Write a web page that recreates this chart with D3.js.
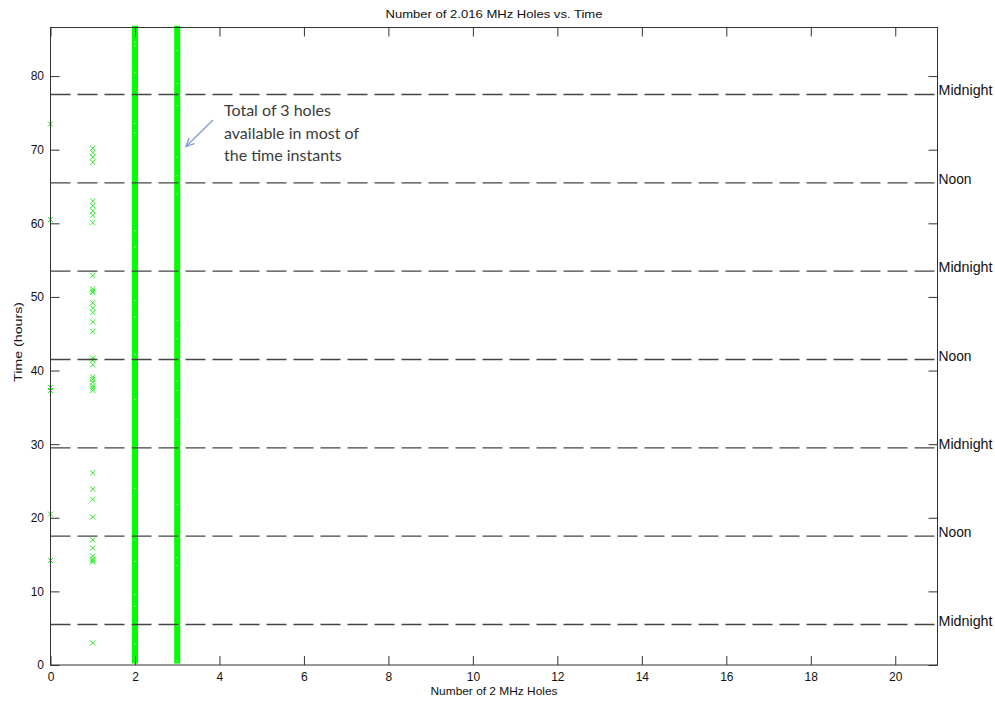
<!DOCTYPE html>
<html><head><meta charset="utf-8">
<script src="https://cdn.jsdelivr.net/npm/d3@7"></script>
<style>
html,body{margin:0;padding:0;background:#fff;}
svg{display:block;}
</style></head>
<body>
<script>
// ---- data ----
const xTicks = [0,2,4,6,8,10,12,14,16,18,20];
const yTicks = [0,10,20,30,40,50,60,70,80];
// time instants (hours) with 0 holes
const holes0 = [73.5, 60.5, 37.3, 37.7, 20.5, 14.2];
// time instants (hours) with 1 hole
const holes1 = [70.2, 69.6, 69.0, 68.3, 63.0, 62.4, 61.7, 61.1, 60.1, 52.9, 51.1, 50.8, 50.6,
  49.2, 48.5, 47.9, 46.6, 45.3, 41.7, 41.4, 40.8, 39.1, 38.8, 38.4, 37.9, 37.6, 37.3,
  26.1, 23.9, 22.5, 20.1, 17.0, 15.9, 14.8, 14.4, 14.2, 14.0, 3.0];
// near-continuous runs of time instants (hours) with 2 and 3 holes
const runs2 = [[0, 86.5]];
const runs3 = [[0, 86.5]];
// short gaps visible inside the dense runs
const gaps2 = [86.0, 84.6, 84.1, 80.5, 73.6, 72.3, 59.0, 56.8, 49.5, 47.3, 42.2, 36.1, 24.0, 17.0, 14.1, 9.6, 8.0, 2.9];
const gaps3 = [83.5, 79.0, 76.0, 69.0, 66.5, 64.0, 46.8, 44.3, 38.6, 37.3, 33.4, 21.8, 17.5, 14.6, 13.5, 5.4, 0.6];
// reference lines
const refTimes = [5.5, 17.5, 29.5, 41.5, 53.5, 65.5, 77.5];
const refLabels = ["Midnight","Noon","Midnight","Noon","Midnight","Noon","Midnight"];
const annotationLines = ["Total of 3 holes", "available in most of", "the time instants"];

const W = 995, H = 702;
const L = 50.5, R = 937.5, T = 27.5, B = 665;
const svg = d3.select("body").append("svg").attr("width", W).attr("height", H);

const x = d3.scaleLinear().domain([0, 21]).range([L, R]);
const y = d3.scaleLinear().domain([0, 86.6]).range([B, T]);

const mfont = "'Liberation Sans', Arial, sans-serif";
const green = "#00ff00";

// runs (dense markers) as bars
function drawRuns(runs, xv){
  svg.append("g").selectAll("rect").data(runs).join("rect")
    .attr("x", x(xv) - 3).attr("width", 6)
    .attr("y", d => y(d[1]) - 2.5).attr("height", d => y(d[0]) - y(d[1]) + 1)
    .attr("fill", green);
}
drawRuns(runs2, 2);
drawRuns(runs3, 3);
function drawGaps(g, xv, off){
  svg.append("g").selectAll("rect").data(g).join("rect")
    .attr("x", x(xv) + off).attr("y", d => y(d) - 0.5)
    .attr("width", 1.2).attr("height", 1.2).attr("fill", "#e8ffe8");
}
drawGaps(gaps2, 2, -0.5);
drawGaps(gaps3, 3, -0.5);

// x markers
function drawX(vals, xv){
  const s = 2.6;
  svg.append("g").selectAll("path").data(vals).join("path")
    .attr("d", d => {
      const cx = x(xv), cy = y(d);
      return `M${cx-s},${cy-s}L${cx+s},${cy+s}M${cx-s},${cy+s}L${cx+s},${cy-s}`;
    })
    .attr("stroke", "#22ee22").attr("stroke-width", 1).attr("fill", "none");
}
drawX(holes0, 0);
drawX(holes1, 1);

// reference dashed lines
svg.append("g").selectAll("line").data(refTimes).join("line")
  .attr("x1", L).attr("x2", R)
  .attr("y1", d => y(d)).attr("y2", d => y(d))
  .attr("stroke", "#444").attr("stroke-width", 1.3)
  .attr("stroke-dasharray", "20,7");

// axes (MATLAB style, ticks inward)
const axColor = "#333";
svg.append("rect").attr("x", L).attr("y", T).attr("width", R - L).attr("height", B - T)
  .attr("fill", "none").attr("stroke", axColor).attr("stroke-width", 1);

const gx = svg.append("g").attr("transform", `translate(0,${B})`)
  .call(d3.axisBottom(x).tickValues(xTicks).tickSize(-9).tickPadding(7.5).tickFormat(d3.format("d")));
const gxt = svg.append("g").attr("transform", `translate(0,${T})`)
  .call(d3.axisTop(x).tickValues(xTicks).tickSize(-9).tickFormat(""));
const gy = svg.append("g").attr("transform", `translate(${L},0)`)
  .call(d3.axisLeft(y).tickValues(yTicks).tickSize(-9).tickPadding(6.5).tickFormat(d3.format("d")));
const gyr = svg.append("g").attr("transform", `translate(${R},0)`)
  .call(d3.axisRight(y).tickValues(yTicks).tickSize(-9).tickFormat(""));
[gx, gxt, gy, gyr].forEach(g => {
  g.select(".domain").remove();
  g.selectAll(".tick line").attr("stroke", axColor);
  g.selectAll(".tick text").attr("font-family", mfont).attr("font-size", 12).attr("fill", "#111");
});

// right-side labels
svg.append("g").selectAll("text").data(refTimes).join("text")
  .attr("x", R + 1).attr("y", d => y(d) + 1)
  .attr("font-family", mfont).attr("font-size", 14).attr("fill", "#111")
  .attr("textLength", (d, i) => refLabels[i] === "Midnight" ? 54 : 33)
  .attr("lengthAdjust", "spacingAndGlyphs")
  .text((d, i) => refLabels[i]);

// title and axis labels
svg.append("text").attr("x", (L + R) / 2).attr("y", 18).attr("text-anchor", "middle")
  .attr("font-family", mfont).attr("font-size", 11).attr("fill", "#111")
  .attr("textLength", 217).attr("lengthAdjust", "spacingAndGlyphs")
  .text("Number of 2.016 MHz Holes vs. Time");
svg.append("text").attr("x", (L + R) / 2).attr("y", 695).attr("text-anchor", "middle")
  .attr("font-family", mfont).attr("font-size", 11).attr("fill", "#111")
  .attr("textLength", 127).attr("lengthAdjust", "spacingAndGlyphs")
  .text("Number of 2 MHz Holes");
svg.append("text").attr("transform", `translate(22,342) rotate(-90)`).attr("text-anchor", "middle")
  .attr("font-family", mfont).attr("font-size", 11).attr("fill", "#111")
  .attr("textLength", 80).attr("lengthAdjust", "spacingAndGlyphs")
  .text("Time (hours)");

// annotation
svg.append("g").selectAll("text").data(annotationLines).join("text")
  .attr("x", 224).attr("y", (d, i) => 116 + i * 22.7)
  .attr("font-family", "Lato, 'Open Sans', sans-serif").attr("font-size", 16).attr("fill", "#3b3b3b")
  .text(d => d);
const ax1 = 213, ay1 = 120, ax2 = 186, ay2 = 146.5;
svg.append("line").attr("x1", ax1).attr("y1", ay1).attr("x2", ax2).attr("y2", ay2)
  .attr("stroke", "#7f9ccf").attr("stroke-width", 1.3);
const ang = Math.atan2(ay1 - ay2, ax1 - ax2);
const hl = 9, ha = 0.45;
svg.append("path")
  .attr("d", `M${ax2 + hl*Math.cos(ang+ha)},${ay2 + hl*Math.sin(ang+ha)}L${ax2},${ay2}L${ax2 + hl*Math.cos(ang-ha)},${ay2 + hl*Math.sin(ang-ha)}`)
  .attr("stroke", "#7f9ccf").attr("stroke-width", 1.3).attr("fill", "none");
</script>
</body></html>
